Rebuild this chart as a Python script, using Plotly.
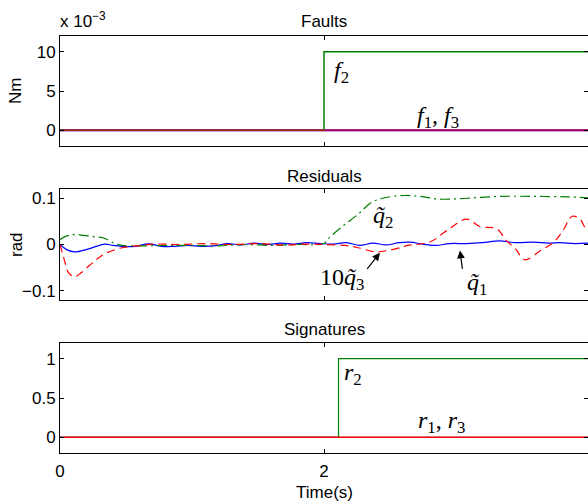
import plotly.graph_objects as go

# ---------------- data ----------------
# Faults (values in units of 1e-3 Nm)
t_fault = [0, 2, 2, 4]
f1 = [0, 0, 0, 0]
f2 = [0, 0, 10, 10]
f3 = [0, 0, 0, 0]

# Residuals (rad)
t_q1 = [0, 0.05, 0.11, 0.21, 0.34, 0.40, 0.47, 0.57, 0.67, 0.77, 0.87, 0.97, 1.07, 1.17,
        1.27, 1.37, 1.47, 1.57, 1.67, 1.77, 1.87, 1.97, 2.07, 2.17, 2.27, 2.37, 2.47, 2.57,
        2.65, 2.75, 2.85, 2.95, 3.08, 3.2, 3.33, 3.45, 3.59, 3.7, 3.79, 3.9, 4.0]
q1 = [0, -0.011, -0.016, -0.010, 0.001, -0.002, -0.004, -0.004, 0.0015, -0.004, -0.004,
      -0.002, -0.004, -0.003, 0.002, -0.001, 0.003, 0, 0.003, 0.001, 0.004, 0.002, 0.001,
      0.004, -0.002, 0.003, -0.001, 0.004, 0.005, 0.001, -0.002, 0.002, 0.002, 0.004,
      0.008, 0.004, 0.005, 0.003, 0.004, 0.002, 0.003]

t_q2 = [0, 0.03, 0.09, 0.15, 0.25, 0.33, 0.42, 0.47, 0.6, 0.8, 1.0, 1.2, 1.4, 1.6, 1.8,
        2.0, 2.03, 2.13, 2.26, 2.36, 2.46, 2.61, 2.73, 2.88, 3.08, 3.33, 3.59, 3.84, 4.0]
q2 = [0.010, 0.016, 0.021, 0.021, 0.017, 0.014, 0.0015, -0.002, -0.003, -0.002, -0.002,
      -0.003, 0, -0.002, 0, 0.002, 0.012, 0.037, 0.066, 0.091, 0.101, 0.106, 0.104, 0.098,
      0.100, 0.104, 0.104, 0.103, 0.101]

t_q3 = [0, 0.02, 0.04, 0.06, 0.11, 0.16, 0.27, 0.34, 0.47, 0.62, 0.72, 0.9, 1.1, 1.3, 1.5,
        1.7, 1.9, 2.0, 2.16, 2.26, 2.39, 2.48, 2.59, 2.63, 2.80, 2.93, 3.08, 3.18, 3.31,
        3.38, 3.45, 3.52, 3.64, 3.74, 3.81, 3.88, 3.94, 3.98, 4.0]
q3x10 = [0, -0.02, -0.041, -0.059, -0.07, -0.061, -0.034, -0.02, -0.007, -0.002, 0.001, 0,
         0.002, 0, 0.002, -0.001, 0.001, 0, -0.002, -0.007, -0.016, -0.013, -0.006, -0.002,
         0.005, 0.03, 0.055, 0.039, 0.034, 0.009, -0.009, -0.033, -0.013, 0.005, 0.03,
         0.061, 0.055, 0.037, 0.045]

# Signatures
t_sig = [0, 2.11, 2.11, 4]
r1 = [0, 0, 0, 0]
r2 = [0, 0, 1, 1]
r3 = [0, 0, 0, 0]

x_ticks = [0, 2, 4]

# ---------------- figure ----------------
fig = go.Figure()

fig.add_trace(go.Scatter(x=t_fault, y=f1, mode="lines", line=dict(color="#0000ff", width=2),
                         xaxis="x", yaxis="y"))
fig.add_trace(go.Scatter(x=t_fault, y=f2, mode="lines", line=dict(color="#008000", width=1.5),
                         xaxis="x", yaxis="y"))
fig.add_trace(go.Scatter(x=t_fault, y=f3, mode="lines", line=dict(color="#ff0000", width=2),
                         opacity=0.65, xaxis="x", yaxis="y"))

fig.add_trace(go.Scatter(x=t_q1, y=q1, mode="lines", line=dict(color="#0000ff", width=1.2, shape="spline"),
                         xaxis="x2", yaxis="y2"))
fig.add_trace(go.Scatter(x=t_q2, y=q2, mode="lines",
                         line=dict(color="#008000", width=1.2, dash="10px,4px,2px,4px", shape="spline"),
                         xaxis="x2", yaxis="y2"))
fig.add_trace(go.Scatter(x=t_q3, y=q3x10, mode="lines",
                         line=dict(color="#ff0000", width=1.2, dash="8px,5px", shape="spline"),
                         xaxis="x2", yaxis="y2"))

fig.add_trace(go.Scatter(x=t_sig, y=r2, mode="lines", line=dict(color="#008000", width=1.2),
                         xaxis="x3", yaxis="y3"))
fig.add_trace(go.Scatter(x=t_sig, y=r1, mode="lines", line=dict(color="#0000ff", width=0.8),
                         xaxis="x3", yaxis="y3"))
fig.add_trace(go.Scatter(x=t_sig, y=r3, mode="lines", line=dict(color="#ff0000", width=1.6),
                         xaxis="x3", yaxis="y3"))

W, H = 588.0, 504.0
L = 60.0
def pd(top, bottom):
    return [1 - bottom / H, 1 - top / H]
def px(xp):
    return (xp - L) / (W - L)

axis_common = dict(showline=True, linecolor="black", linewidth=1, mirror="ticks",
                   ticks="inside", ticklen=4, tickcolor="black", tickwidth=1,
                   showgrid=False, zeroline=False, automargin=False,
                   tickfont=dict(family="Liberation Sans", size=17, color="black"))

fig.update_layout(
    width=588, height=504,
    margin=dict(l=60, r=0, t=0, b=0, pad=0),
    paper_bgcolor="white", plot_bgcolor="white",
    showlegend=False,
    xaxis=dict(axis_common, range=[0, 4], tickvals=x_ticks, showticklabels=False,
               domain=[0, 1], anchor="y"),
    yaxis=dict(axis_common, range=[-2, 12], tickvals=[0, 5, 10], domain=pd(36, 146), anchor="x"),
    xaxis2=dict(axis_common, range=[0, 4], tickvals=x_ticks, showticklabels=False,
                domain=[0, 1], anchor="y2"),
    yaxis2=dict(axis_common, range=[-0.12, 0.12], tickvals=[-0.1, 0, 0.1],
                ticktext=["\u22120.1", "0", "0.1"], domain=pd(189, 300), anchor="x2"),
    xaxis3=dict(axis_common, range=[0, 4], tickvals=x_ticks, domain=[0, 1], anchor="y3",
                ticklabelstandoff=3),
    yaxis3=dict(axis_common, range=[-0.2, 1.2], tickvals=[0, 0.5, 1], domain=pd(343, 453), anchor="x3"),
)

sans = dict(family="Liberation Sans", size=17, color="black")
serif = dict(family="Liberation Serif", size=24, color="black")

ann = []
# titles
for txt, ypx in [("Faults", 22), ("Residuals", 176), ("Signatures", 329)]:
    ann.append(dict(text=txt, x=px(324), y=1 - ypx / H, xref="paper", yref="paper",
                    showarrow=False, font=sans, xanchor="center", yanchor="middle"))
ann.append(dict(text="x 10<sup>\u22123</sup>", x=px(58), y=1 - 20 / H, xref="paper", yref="paper",
                showarrow=False, font=sans, xanchor="left", yanchor="middle"))
ann.append(dict(text="Nm", x=px(15), y=1 - 91 / H, xref="paper", yref="paper", textangle=-90,
                showarrow=False, font=sans, xanchor="center", yanchor="middle"))
ann.append(dict(text="rad", x=px(16), y=1 - 245 / H, xref="paper", yref="paper", textangle=-90,
                showarrow=False, font=sans, xanchor="center", yanchor="middle"))
ann.append(dict(text="Time(s)", x=px(324), y=1 - 492 / H, xref="paper", yref="paper",
                showarrow=False, font=sans, xanchor="center", yanchor="middle"))

# math labels
ann.append(dict(text="<i>f</i><sub>2</sub>", x=2.13, y=7.4, xref="x", yref="y",
                showarrow=False, font=serif))
ann.append(dict(text="<i>f</i><sub>1</sub>, <i>f</i><sub>3</sub>", x=2.86, y=1.7, xref="x", yref="y",
                showarrow=False, font=serif))
ann.append(dict(text="<i>q\u0303</i><sub>2</sub>", x=2.45, y=0.060, xref="x2", yref="y2",
                showarrow=False, font=serif))
ann.append(dict(text="10<i>q\u0303</i><sub>3</sub>", x=2.14, y=-0.075, xref="x2", yref="y2",
                showarrow=False, font=serif))
ann.append(dict(text="<i>q\u0303</i><sub>1</sub>", x=3.16, y=-0.086, xref="x2", yref="y2",
                showarrow=False, font=serif))
ann.append(dict(text="<i>r</i><sub>2</sub>", x=2.22, y=0.80, xref="x3", yref="y3",
                showarrow=False, font=serif))
ann.append(dict(text="<i>r</i><sub>1</sub>, <i>r</i><sub>3</sub>", x=2.89, y=0.19, xref="x3", yref="y3",
                showarrow=False, font=serif))
# arrows
ann.append(dict(text="", x=2.424, y=-0.018, ax=2.318, ay=-0.056, xref="x2", yref="y2",
                axref="x2", ayref="y2", showarrow=True, arrowhead=2, arrowsize=1.3,
                arrowwidth=1.2, arrowcolor="black"))
ann.append(dict(text="", x=3.03, y=-0.013, ax=3.05, ay=-0.056, xref="x2", yref="y2",
                axref="x2", ayref="y2", showarrow=True, arrowhead=2, arrowsize=1.3,
                arrowwidth=1.2, arrowcolor="black"))

fig.update_layout(annotations=ann)
fig.write_html("out.html", config={"displayModeBar": False},
               post_script="document.body.style.margin='0px';document.body.style.overflow='hidden';")
